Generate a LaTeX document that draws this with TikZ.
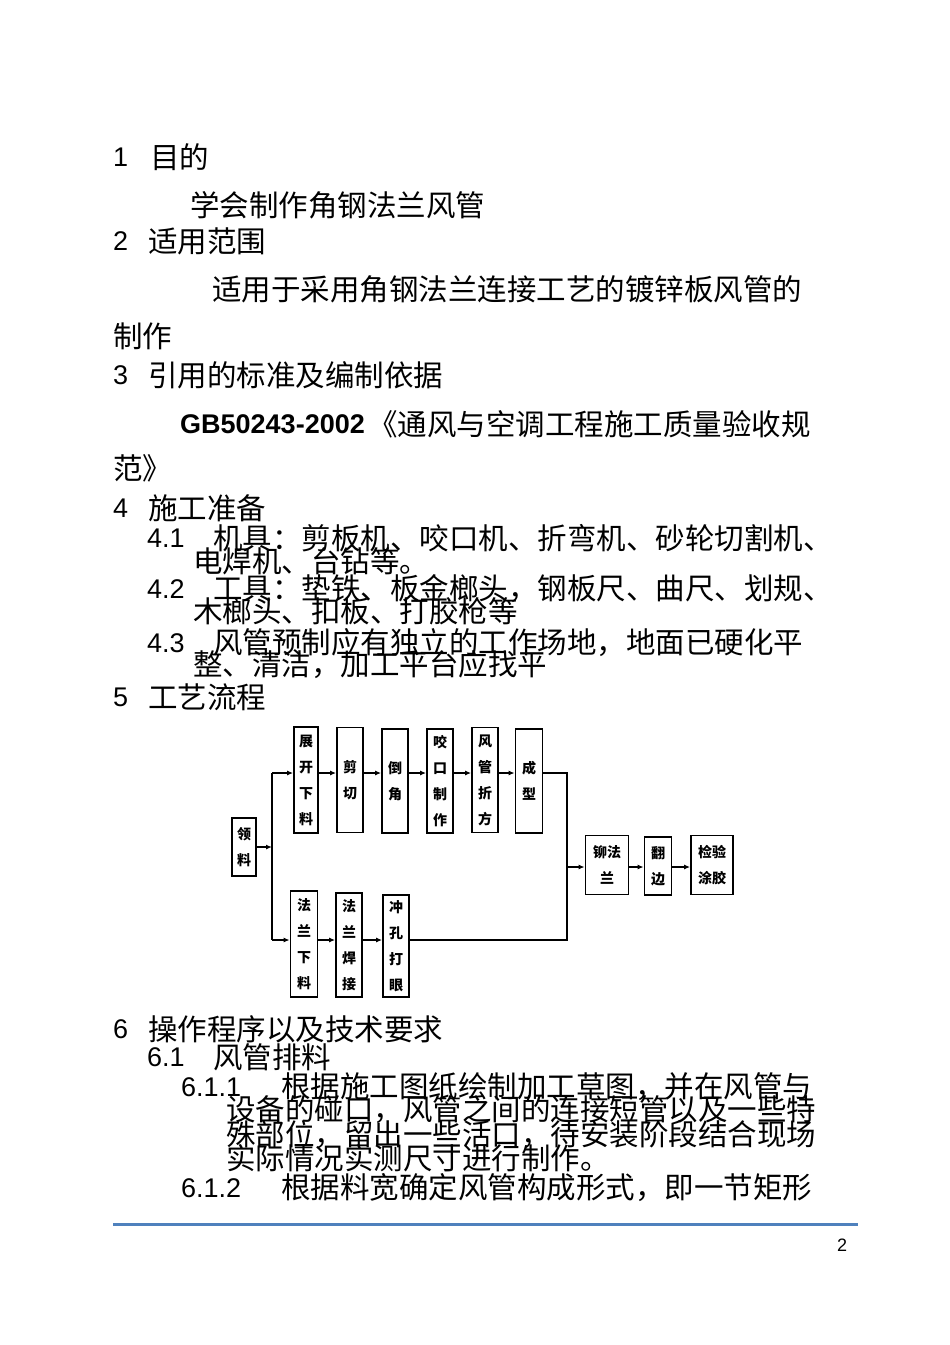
\documentclass[tikz,border=0pt]{standalone}
\usepackage{fontspec}
\setmainfont{Liberation Sans}
\newfontfamily\cjk{Noto Sans CJK SC}
\usetikzlibrary{arrows.meta}
\begin{document}
\begin{tikzpicture}[x=1pt,y=-1pt,
  txt/.style={anchor=west,inner sep=0,font=\fontsize{27}{30}\selectfont},
  ct/.style={anchor=west,inner sep=0,font=\cjk\fontsize{29.5}{30}\selectfont},
  box/.style={draw,line width=1.8pt,inner sep=0,align=center,font=\cjk\bfseries\fontsize{14}{26}\selectfont},
  conn/.style={line width=1.6pt},
  arr/.style={conn,-{Latex[length=6pt,width=5pt]}}]
\useasboundingbox[fill=white] (0,0) rectangle (950,1345);
% text
\node[txt] (n1) at (113,157) {1};
\node[ct] (t1) at (150,157) {目的};
\node[ct] (t1a) at (190,205) {学会制作角钢法兰风管};
\node[txt] (n2) at (113,241) {2};
\node[ct] (t2) at (148,241) {适用范围};
\node[ct] (t2a) at (212,289) {适用于采用角钢法兰连接工艺的镀锌板风管的};
\node[ct] (t2b) at (113,336) {制作};
\node[txt] (n3) at (113,375) {3};
\node[ct] (t3) at (148,375) {引用的标准及编制依据};
\node[txt,font=\bfseries\fontsize{27}{30}\selectfont] (gb) at (180,424) {GB50243-2002};
\node[ct] (t3a) at (368,424) {《通风与空调工程施工质量验收规};
\node[ct] (t3b) at (113,468) {范》};
\node[txt] (n4) at (113,508) {4};
\node[ct] (t4) at (148,508) {施工准备};
\node[txt] (n41) at (147,538) {4.1};
\node[ct] (t41) at (213,538) {机具：剪板机、咬口机、折弯机、砂轮切割机、};
\node[ct] (t41b) at (193,561) {电焊机、台钻等。};
\node[txt] (n42) at (147,589) {4.2};
\node[ct] (t42) at (213,589) {工具：垫铁、板金榔头，钢板尺、曲尺、划规、};
\node[ct] (t42b) at (193,611) {木榔头、扣板、打胶枪等};
\node[txt] (n43) at (147,643) {4.3};
\node[ct] (t43) at (213,643) {风管预制应有独立的工作场地，地面已硬化平};
\node[ct] (t43b) at (193,665) {整、清洁，加工平台应找平};
\node[txt] (n5) at (113,697) {5};
\node[ct] (t5) at (148,697) {工艺流程};
\node[txt] (n6) at (113,1029) {6};
\node[ct] (t6) at (148,1029) {操作程序以及技术要求};
\node[txt] (n61) at (147,1057) {6.1};
\node[ct] (t61) at (213,1057) {风管排料};
\node[txt] (n611) at (181,1087) {6.1.1};
\node[ct] (t611) at (281,1087) {根据施工图纸绘制加工草图，并在风管与};
\node[ct] (t611b) at (226,1110) {设备的碰口，风管之间的连接短管以及一些特};
\node[ct] (t611c) at (226,1135) {殊部位，留出一些活口，待安装阶段结合现场};
\node[ct] (t611d) at (226,1158) {实际情况实测尺寸进行制作。};
\node[txt] (n612) at (181,1188) {6.1.2};
\node[ct] (t612) at (281,1188) {根据料宽确定风管构成形式，即一节矩形};
\draw[line width=3pt,color={rgb,255:red,79;green,129;blue,189}] (113,1224) -- (858,1224);
\node[anchor=center,inner sep=0,font=\fontsize{18}{20}\selectfont] (pg) at (842,1245) {2};
% flowchart
\node[box,minimum width=24,minimum height=58] (ll) at (244,847) {领\\料};
\node[box,minimum width=24,minimum height=106] (a1) at (306,780) {展\\开\\下\\料};
\node[box,minimum width=26,minimum height=105] (a2) at (350,780) {剪\\切};
\node[box,minimum width=26,minimum height=104] (a3) at (395,781) {倒\\角};
\node[box,minimum width=26,minimum height=104] (a4) at (440,781) {咬\\口\\制\\作};
\node[box,minimum width=26,minimum height=105] (a5) at (485,780) {风\\管\\折\\方};
\node[box,minimum width=27,minimum height=104] (a6) at (529,781) {成\\型};
\node[box,minimum width=27,minimum height=106] (b1) at (304,944) {法\\兰\\下\\料};
\node[box,minimum width=26,minimum height=104] (b2) at (349,945) {法\\兰\\焊\\接};
\node[box,minimum width=26,minimum height=102] (b3) at (396,946) {冲\\孔\\打\\眼};
\node[box,minimum width=43,minimum height=59] (c1) at (607,865) {铆法\\兰};
\node[box,minimum width=27,minimum height=58] (c2) at (658,866) {翻\\边};
\node[box,minimum width=42,minimum height=59] (c3) at (712,865) {检验\\涂胶};
\coordinate (sp) at (272,847);
\coordinate (st) at (272,773);
\coordinate (sb) at (272,940);
\coordinate (jt) at (567,773);
\coordinate (jb) at (567,940);
\coordinate (jm) at (567,867);
\draw[arr] (ll.east|-sp) -- (sp);
\draw[conn] (st) -- (sb);
\draw[arr] (st) -- (a1.west|-st);
\draw[arr] (sb) -- (b1.west|-sb);
\foreach \u/\v in {a1/a2,a2/a3,a3/a4,a4/a5,a5/a6}
  \draw[arr] (\u.east|-st) -- (\v.west|-st);
\draw[arr] (b1.east|-sb) -- (b2.west|-sb);
\draw[arr] (b2.east|-sb) -- (b3.west|-sb);
\draw[conn] (a6.east|-jt) -- (jt) -- (jb) -- (b3.east|-jb);
\draw[arr] (jm) -- (c1.west|-jm);
\draw[arr] (c1.east|-jm) -- (c2.west|-jm);
\draw[arr] (c2.east|-jm) -- (c3.west|-jm);
\end{tikzpicture}
\end{document}
